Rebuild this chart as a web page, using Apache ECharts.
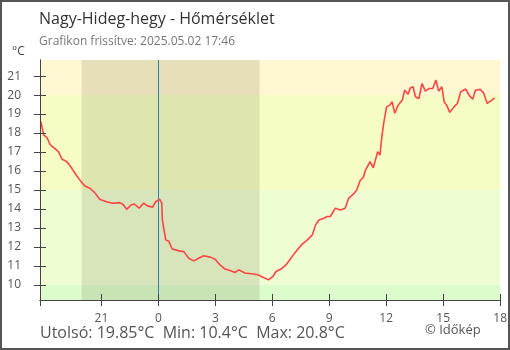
<!DOCTYPE html>
<html><head><meta charset="utf-8">
<script src="https://cdn.jsdelivr.net/npm/echarts@6/dist/echarts.min.js"></script>
<style>html,body{margin:0;padding:0;background:#fff}#c{width:510px;height:350px}</style>
</head><body><div id="c"></div>
<script>
// Hours relative to midnight of 2025.05.02 (negative = previous day)
const hours = [-6.18,-6.12,-6.04,-5.86,-5.69,-5.43,-5.26,-5.08,-4.82,-4.56,-4.30,-4.04,-3.87,-3.61,-3.35,-3.09,-2.74,-2.40,-2.05,-1.88,-1.67,-1.44,-1.27,-1.01,-0.78,-0.57,-0.31,-0.14,0.07,0.18,0.21,0.30,0.39,0.56,0.73,1.08,1.34,1.60,1.86,2.12,2.38,2.73,2.99,3.25,3.51,3.77,4.03,4.24,4.55,4.90,5.24,5.51,5.80,6.03,6.20,6.46,6.72,6.98,7.24,7.59,7.85,8.11,8.28,8.46,8.72,8.89,9.06,9.32,9.58,9.84,10.02,10.28,10.45,10.63,10.80,10.89,11.15,11.32,11.55,11.67,11.76,11.88,12.02,12.19,12.31,12.45,12.63,12.85,12.97,13.15,13.27,13.41,13.54,13.72,13.89,14.06,14.27,14.45,14.62,14.76,14.93,15.05,15.18,15.35,15.57,15.75,15.92,16.18,16.39,16.56,16.70,16.96,17.14,17.32,17.49,17.71];
const temps = [18.6,18.28,17.9,17.75,17.37,17.16,17.02,16.63,16.49,16.14,15.75,15.4,15.21,15.09,14.86,14.51,14.38,14.3,14.33,14.26,13.98,14.21,14.26,14.04,14.3,14.16,14.09,14.38,14.51,14.3,13.42,12.89,12.37,12.28,11.89,11.79,11.75,11.4,11.26,11.4,11.53,11.46,11.35,11.05,10.83,10.75,10.65,10.79,10.62,10.58,10.53,10.4,10.26,10.44,10.7,10.83,11.05,11.4,11.75,12.16,12.37,12.63,13.16,13.42,13.51,13.6,13.6,14.04,13.95,14.04,14.56,14.79,15.0,15.5,15.67,16.0,16.49,16.17,17.02,16.84,17.72,18.6,19.38,19.47,19.65,19.04,19.47,19.74,20.26,20.04,20.38,20.44,19.91,19.82,20.61,20.21,20.35,20.35,20.79,20.21,20.44,19.65,19.47,19.09,19.38,19.56,20.17,20.32,19.96,19.79,20.26,20.3,20.09,19.56,19.68,19.85];
const xTickValues = [-3,0,3,6,9,12,15,18];
const yTickValues = [10,11,12,13,14,15,16,17,18,19,20,21];
const xMin = -6.233, xMax = 18;
const yMin = 9.2, yMax = 21.85;
const nightStart = -4.04, nightEnd = 5.33;
const bands = [[yMin,10,'#ddfccc'],[10,15,'#effdd3'],[15,20,'#f6fdc4'],[20,yMax,'#fff7d1']];
const titleText = 'Nagy-Hideg-hegy - Hőmérséklet';
const subText = 'Grafikon frissítve: 2025.05.02 17:46';
const statsText = 'Utolsó: 19.85°C  Min: 10.4°C  Max: 20.8°C';
const creditText = '© Időkép';

const FONT = '"Open Sans", "Noto Sans", sans-serif';
const chart = echarts.init(document.getElementById('c'), null, {renderer:'canvas'});
const axisCol = '#444';
const lbl = v => String(((Math.round(v) % 24) + 24) % 24);
const baseX = {type:'value', min:xMin, max:xMax, position:'bottom', z:10,
  axisLine:{show:true, onZero:false, lineStyle:{color:axisCol, width:1}},
  splitLine:{show:false}};
const baseY = {type:'value', min:yMin, max:yMax, position:'left', z:10,
  axisLine:{show:true, onZero:false, lineStyle:{color:axisCol, width:1}},
  splitLine:{show:false}};
chart.setOption({
  animation:false,
  grid:{left:40, top:60, right:5, bottom:50, containLabel:false},
  title:[
    {text:titleText, left:34, top:6, textStyle:{fontFamily:FONT, fontSize:16, fontWeight:'normal', color:'#333'}},
    {text:subText, left:34, top:31, textStyle:{fontFamily:FONT, fontSize:12, fontWeight:'normal', color:'#777'}}
  ],
  xAxis:[
    Object.assign({}, baseX, {
      axisTick:{show:true, length:6, inside:false, lineStyle:{color:axisCol}, customValues:[xMin].concat(xTickValues)},
      axisLabel:{show:true, margin:13, color:'#555', fontFamily:FONT, fontSize:12, customValues:xTickValues, formatter:lbl}
    }),
    Object.assign({}, baseX, {
      axisTick:{show:true, length:6, inside:true, lineStyle:{color:axisCol}, customValues:xTickValues},
      axisLabel:{show:false}
    })
  ],
  yAxis:[
    Object.assign({}, baseY, {
      axisTick:{show:true, length:6, inside:false, lineStyle:{color:axisCol}, customValues:yTickValues},
      axisLabel:{show:true, margin:19, color:'#555', fontFamily:FONT, fontSize:12, customValues:yTickValues}
    }),
    Object.assign({}, baseY, {
      axisTick:{show:true, length:6, inside:true, lineStyle:{color:axisCol}, customValues:yTickValues},
      axisLabel:{show:false}
    })
  ],
  series:[
    {type:'line', data:[], z:0, silent:true,
     markArea:{silent:true, data: bands.map(b => [{yAxis:b[0], itemStyle:{color:b[2]}}, {yAxis:b[1]}])}},
    {type:'line', data:[], z:1, silent:true,
     markArea:{silent:true, itemStyle:{color:'rgba(40,40,0,0.11)'}, data:[[{xAxis:nightStart},{xAxis:nightEnd}]]},
     markLine:{silent:true, symbol:['none','none'], label:{show:false}, lineStyle:{color:'#2f80b5', width:1, type:'solid'}, data:[{xAxis:0}]}},
    {type:'line', z:5, data: hours.map((h,i)=>[h, temps[i]]), showSymbol:false, symbol:'none',
     lineStyle:{color:'#ff4444', width:1.6}, itemStyle:{color:'#ff4444'}}
  ],
  graphic:[
    {type:'text', left:12, top:46, style:{text:'°C', font:'12px '+FONT, fill:'#444'}},
    {type:'text', left:40, top:325, style:{text:statsText, font:'16px '+FONT, fill:'#555'}},
    {type:'text', left:425, top:324, style:{text:creditText, font:'13px '+FONT, fill:'#555'}},
    {type:'rect', shape:{x:1, y:1, width:508, height:348}, style:{fill:'none', stroke:'#555', lineWidth:2}, z:100}
  ]
});
</script></body></html>
